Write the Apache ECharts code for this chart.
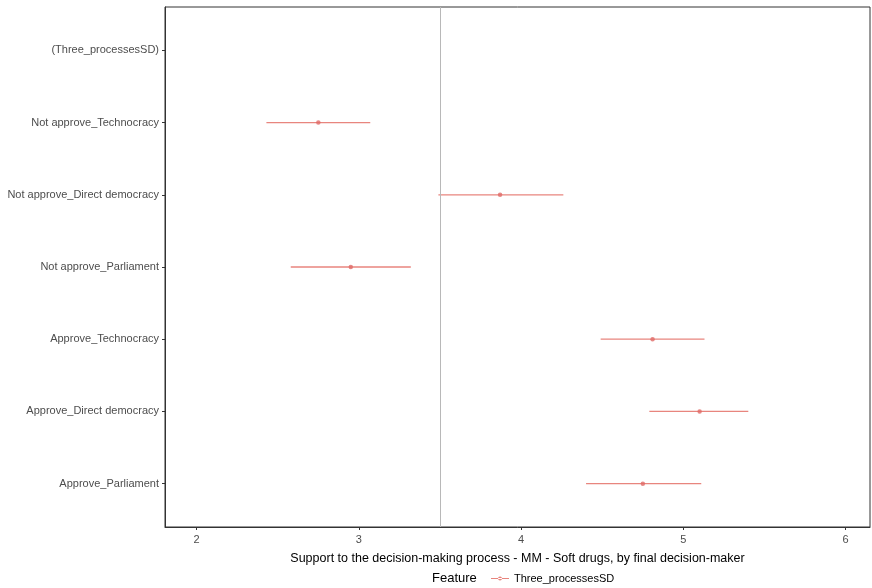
<!DOCTYPE html>
<html><head><meta charset="utf-8">
<script src="https://cdn.jsdelivr.net/npm/echarts@6/dist/echarts.min.js"></script>
<style>html,body{margin:0;padding:0;background:#fff}#c{width:872px;height:588px}</style>
</head><body><div id="c"></div>
<script>
const categories = ['Approve_Parliament','Approve_Direct democracy','Approve_Technocracy','Not approve_Parliament','Not approve_Direct democracy','Not approve_Technocracy','(Three_processesSD)'];
const estimates = [4.75, 5.10, 4.81, 2.95, 3.87, 2.75, null];
const lower = [4.40, 4.79, 4.49, 2.58, 3.49, 2.43, null];
const upper = [5.11, 5.40, 5.13, 3.32, 4.26, 3.07, null];
const xTicks = [2, 3, 4, 5, 6];
const refLine = 3.5;
const seriesName = 'Three_processesSD';

const pos = categories.map((c, i) => i + 1);
const ebData = [];
const ptData = [];
categories.forEach((c, i) => {
  if (estimates[i] != null) {
    ebData.push([lower[i], upper[i], pos[i]]);
    ptData.push([estimates[i], pos[i]]);
  }
});

const col = '#E8857E';
const chart = echarts.init(document.getElementById('c'));
chart.setOption({
  animation: false,
  grid: { left: 165, right: 2, top: 7, bottom: 61, show: true, borderColor: '#333', borderWidth: 1, backgroundColor: '#fff' },
  xAxis: {
    type: 'value', min: 1.805, max: 6.15,
    name: 'Support to the decision-making process - MM - Soft drugs, by final decision-maker',
    nameLocation: 'middle', nameGap: 25,
    nameTextStyle: { color: '#000', fontSize: 12.5, fontFamily: 'Liberation Sans' },
    axisLine: { show: true, lineStyle: { color: '#333' } },
    axisTick: { show: true, customValues: xTicks, length: 3, lineStyle: { color: '#333' } },
    axisLabel: { customValues: xTicks, color: '#4D4D4D', fontSize: 11, margin: 7, fontFamily: 'Liberation Sans' },
    splitLine: { show: false }
  },
  yAxis: {
    type: 'value', min: 0.4, max: 7.6,
    axisLine: { show: true, lineStyle: { color: '#333' } },
    axisTick: { show: true, customValues: pos, length: 3, lineStyle: { color: '#333' } },
    axisLabel: { customValues: pos, color: '#4D4D4D', fontSize: 11, margin: 6, fontFamily: 'Liberation Sans',
      formatter: v => categories[Math.round(v) - 1] || '' },
    splitLine: { show: false }
  },
  legend: {
    top: 568, left: 486, itemWidth: 18, itemHeight: 8, itemGap: 5,
    data: [{ name: seriesName, icon: 'path://M0,3.5h18v1h-18z M9,2a2,2 0 1,0 0.01,0z', itemStyle: { color: col } }],
    textStyle: { color: '#000', fontSize: 11, fontFamily: 'Liberation Sans' }
  },
  graphic: [{ type: 'text', left: 432, top: 572, style: { text: 'Feature', fill: '#000', font: '13px Liberation Sans' } }],
  series: [
    {
      type: 'custom', name: seriesName, data: ebData, encode: { x: [0, 1], y: 2 },
      itemStyle: { color: col },
      renderItem: (params, api) => {
        const a = api.coord([api.value(0), api.value(2)]);
        const b = api.coord([api.value(1), api.value(2)]);
        return { type: 'line', shape: { x1: a[0], y1: a[1], x2: b[0], y2: b[1] }, style: { stroke: col, lineWidth: 1.3 } };
      },
      z: 3
    },
    {
      type: 'scatter', name: seriesName, data: ptData, symbolSize: 4.5,
      itemStyle: { color: '#E06A66' }, z: 4,
      markLine: { silent: true, symbol: 'none', label: { show: false },
        lineStyle: { color: '#B8B8B8', type: 'solid', width: 1 },
        data: [{ xAxis: refLine }] }
    }
  ]
});
</script></body></html>
